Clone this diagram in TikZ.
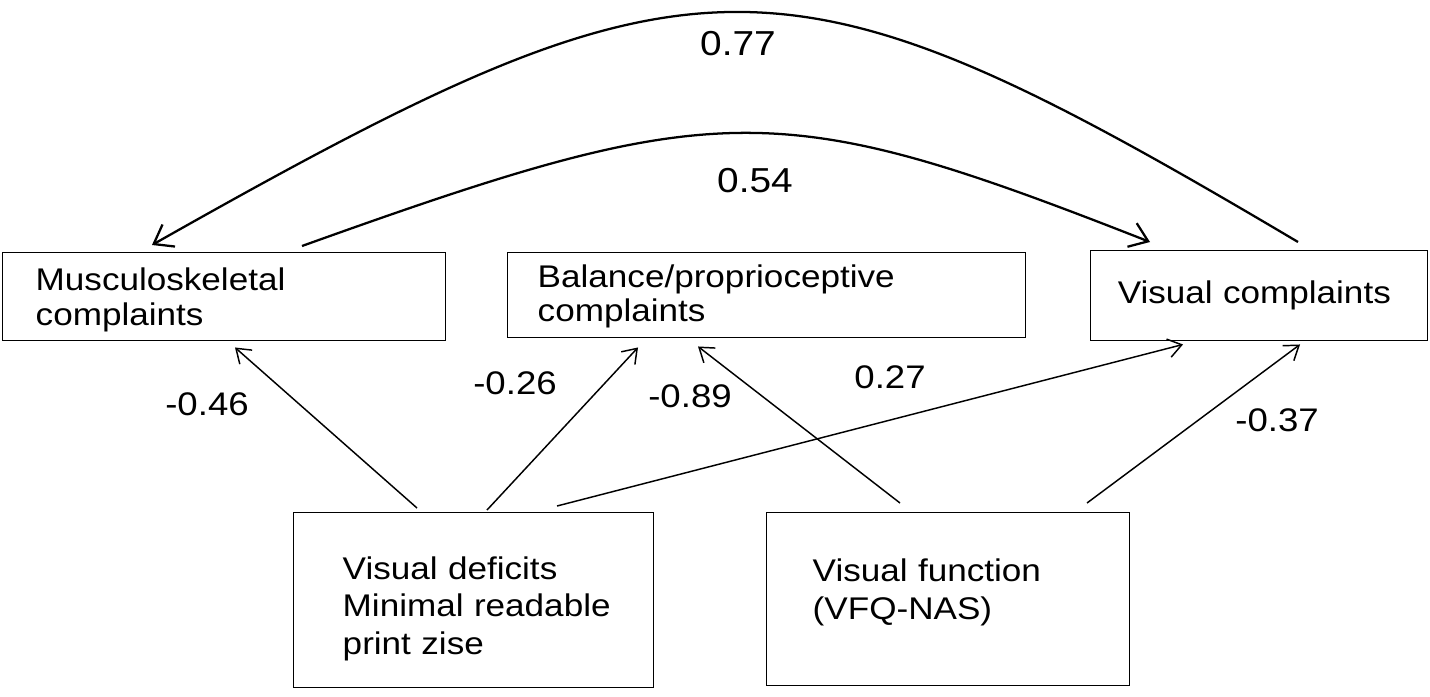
\documentclass[tikz,border=0pt]{standalone}
\usepackage{fontspec}
\setmainfont{Liberation Sans}[FakeStretch=1.12]
\usetikzlibrary{arrows.meta}
\begin{document}
\begin{tikzpicture}[x=0.75pt,y=-0.75pt,
  box/.style={draw, line width=1.1pt, rectangle, align=left, anchor=north west, inner ysep=0pt},
  boxfont/.style={font=\fontsize{23.5pt}{26pt}\selectfont},
  boxfontwide/.style={font=\fontsize{23.5pt}{28pt}\selectfont},
  lab/.style={font=\fontsize{24.5pt}{26pt}\selectfont, inner sep=0pt},
  biglab/.style={font=\fontsize{26pt}{28pt}\selectfont, inner sep=0pt},
  curve/.style={line width=1.7pt, -{Straight Barb[length=13pt,width=19pt,line width=1.7pt]}},
  path/.style={line width=1.1pt, -{Straight Barb[length=10pt,width=14pt,line width=1.1pt]}}
]
\useasboundingbox (0,0) rectangle (1430,696);

% boxes
\node[box, boxfont, text width=282.75pt, inner xsep=24.75pt, minimum height=66pt] (musc) at (2,252) {\mbox{\rule{0pt}{22pt}Musculoskeletal}\\\mbox{complaints}};
\node[box, boxfont, text width=343.5pt, inner xsep=22.5pt, minimum height=63.75pt] (bal) at (507,252) {\mbox{\rule{0pt}{19pt}Balance/proprioceptive}\\\mbox{complaints}};
\node[box, boxfont, text width=212.25pt, inner xsep=20.25pt, minimum height=67.5pt] (visc) at (1090,250) {\mbox{Visual complaints}};
\node[box, boxfontwide, text width=196.5pt, inner xsep=36.75pt, minimum height=131.25pt] (vdef) at (293,512) {\mbox{\rule{0pt}{30pt}Visual deficits}\\\mbox{Minimal readable}\\\mbox{print zise}};
\node[box, boxfontwide, text width=203.25pt, inner xsep=34.5pt, minimum height=129.75pt] (vfun) at (766,512) {\mbox{Visual function}\\\mbox{(VFQ-NAS)\rule[-15pt]{0pt}{0pt}}};

% curved correlations
\draw[curve] ([shift={(208,-8)}]visc.north west) .. controls (780,-65) and (700,-65) .. ([shift={(150,-7)}]musc.north west);
\draw[curve] ([shift={(300,-6)}]musc.north west) .. controls (720,96) and (778,96) .. ([shift={(60,-8)}]visc.north west);

% straight paths
\draw[path] ([shift={(124,-4)}]vdef.north west) -- ([shift={(233,6)}]musc.south west);
\draw[path] ([shift={(194,-2)}]vdef.north west) -- ([shift={(131,9)}]bal.south west);
\draw[path] ([shift={(264,-6)}]vdef.north west) -- ([shift={(93,3)}]visc.south west);
\draw[path] ([shift={(134,-9)}]vfun.north west) -- ([shift={(191,8)}]bal.south west);
\draw[path] ([shift={(321,-9)}]vfun.north west) -- ([shift={(210,3)}]visc.south west);

% labels
\node[biglab] (l77) at (738,44) {0.77};
\node[biglab] (l54) at (755,181) {0.54};
\node[lab] (l46) at (207,404) {-0.46};
\node[lab] (l26) at (515,383) {-0.26};
\node[lab] (l89) at (690,396) {-0.89};
\node[lab] (l27) at (890,377) {0.27};
\node[lab] (l37) at (1277,420) {-0.37};
\end{tikzpicture}
\end{document}
